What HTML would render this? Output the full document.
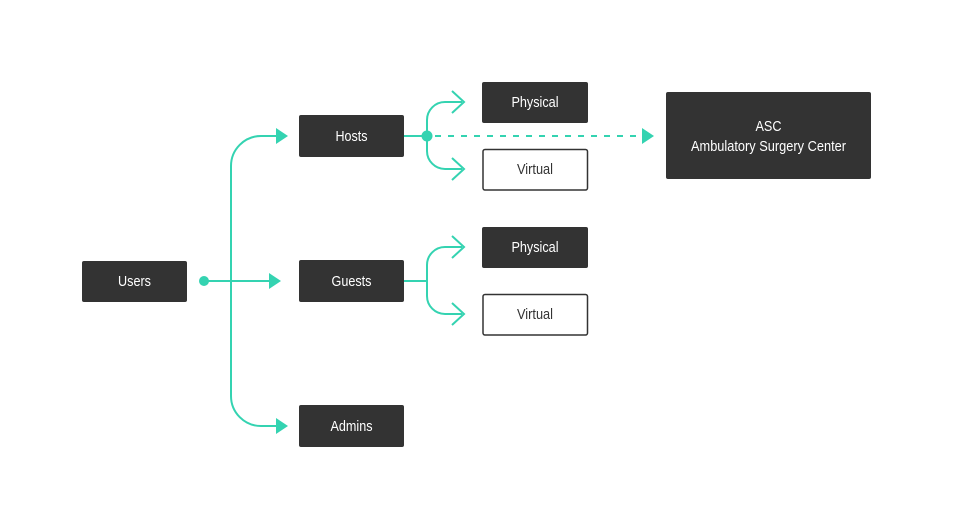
<!DOCTYPE html>
<html><head><meta charset="utf-8"><style>
html,body{margin:0;padding:0;background:#fff;}
svg{display:block;}
text{font-family:"Liberation Sans",sans-serif;font-size:14.5px;}
</style></head><body>
<svg width="953" height="529" viewBox="0 0 953 529" xmlns="http://www.w3.org/2000/svg">
<g stroke="#34d3b1" stroke-width="2" fill="none">
  <line x1="204" y1="281" x2="272" y2="281"/>
  <path d="M278 136 H261 A30 30 0 0 0 231 166 V396 A30 30 0 0 0 261 426 H278"/>
  <line x1="404" y1="136" x2="427" y2="136"/>
  <path d="M462 102 H445 A18 18 0 0 0 427 120 V151 A18 18 0 0 0 445 169 H462"/>
  <path d="M452 91 L464 102 L452 113"/>
  <path d="M452 158 L464 169 L452 180"/>
  <line x1="435" y1="136" x2="643" y2="136" stroke-dasharray="6 7"/>
  <line x1="404" y1="281" x2="427" y2="281"/>
  <path d="M462 247 H445 A18 18 0 0 0 427 265 V296 A18 18 0 0 0 445 314 H462"/>
  <path d="M452 236 L464 247 L452 258"/>
  <path d="M452 303 L464 314 L452 325"/>
</g>
<g fill="#34d3b1">
  <circle cx="204" cy="281" r="5"/>
  <circle cx="427" cy="136" r="5.5"/>
  <path d="M276 128 L288 136 L276 144Z"/>
  <path d="M269 273 L281 281 L269 289Z"/>
  <path d="M276 418 L288 426 L276 434Z"/>
  <path d="M642 128 L654 136 L642 144Z"/>
</g>
<g fill="#333">
  <rect x="82" y="261" width="105" height="41" rx="2"/>
  <rect x="299" y="115" width="105" height="42" rx="2"/>
  <rect x="299" y="260" width="105" height="42" rx="2"/>
  <rect x="299" y="405" width="105" height="42" rx="2"/>
  <rect x="482" y="82" width="106" height="41" rx="2"/>
  <rect x="482" y="227" width="106" height="41" rx="2"/>
  <rect x="666" y="92" width="205" height="87" rx="2"/>
</g>
<g fill="#fff" stroke="#333" stroke-width="1.5">
  <rect x="483" y="149.5" width="104.5" height="40.5" rx="2"/>
  <rect x="483" y="294.5" width="104.5" height="40.5" rx="2"/>
</g>
<g fill="#fff" text-anchor="middle" lengthAdjust="spacingAndGlyphs">
  <text x="134.5" y="286" textLength="33" lengthAdjust="spacingAndGlyphs">Users</text>
  <text x="351.5" y="141" textLength="32" lengthAdjust="spacingAndGlyphs">Hosts</text>
  <text x="351.5" y="286" textLength="40" lengthAdjust="spacingAndGlyphs">Guests</text>
  <text x="351.5" y="431" textLength="42" lengthAdjust="spacingAndGlyphs">Admins</text>
  <text x="535" y="107" textLength="47" lengthAdjust="spacingAndGlyphs">Physical</text>
  <text x="535" y="252" textLength="47" lengthAdjust="spacingAndGlyphs">Physical</text>
  <text x="768.5" y="131" textLength="26" lengthAdjust="spacingAndGlyphs">ASC</text>
  <text x="768.5" y="151" textLength="155" lengthAdjust="spacingAndGlyphs">Ambulatory Surgery Center</text>
</g>
<g fill="#333" text-anchor="middle">
  <text x="535" y="174" textLength="36" lengthAdjust="spacingAndGlyphs">Virtual</text>
  <text x="535" y="319" textLength="36" lengthAdjust="spacingAndGlyphs">Virtual</text>
</g>
</svg>
</body></html>
